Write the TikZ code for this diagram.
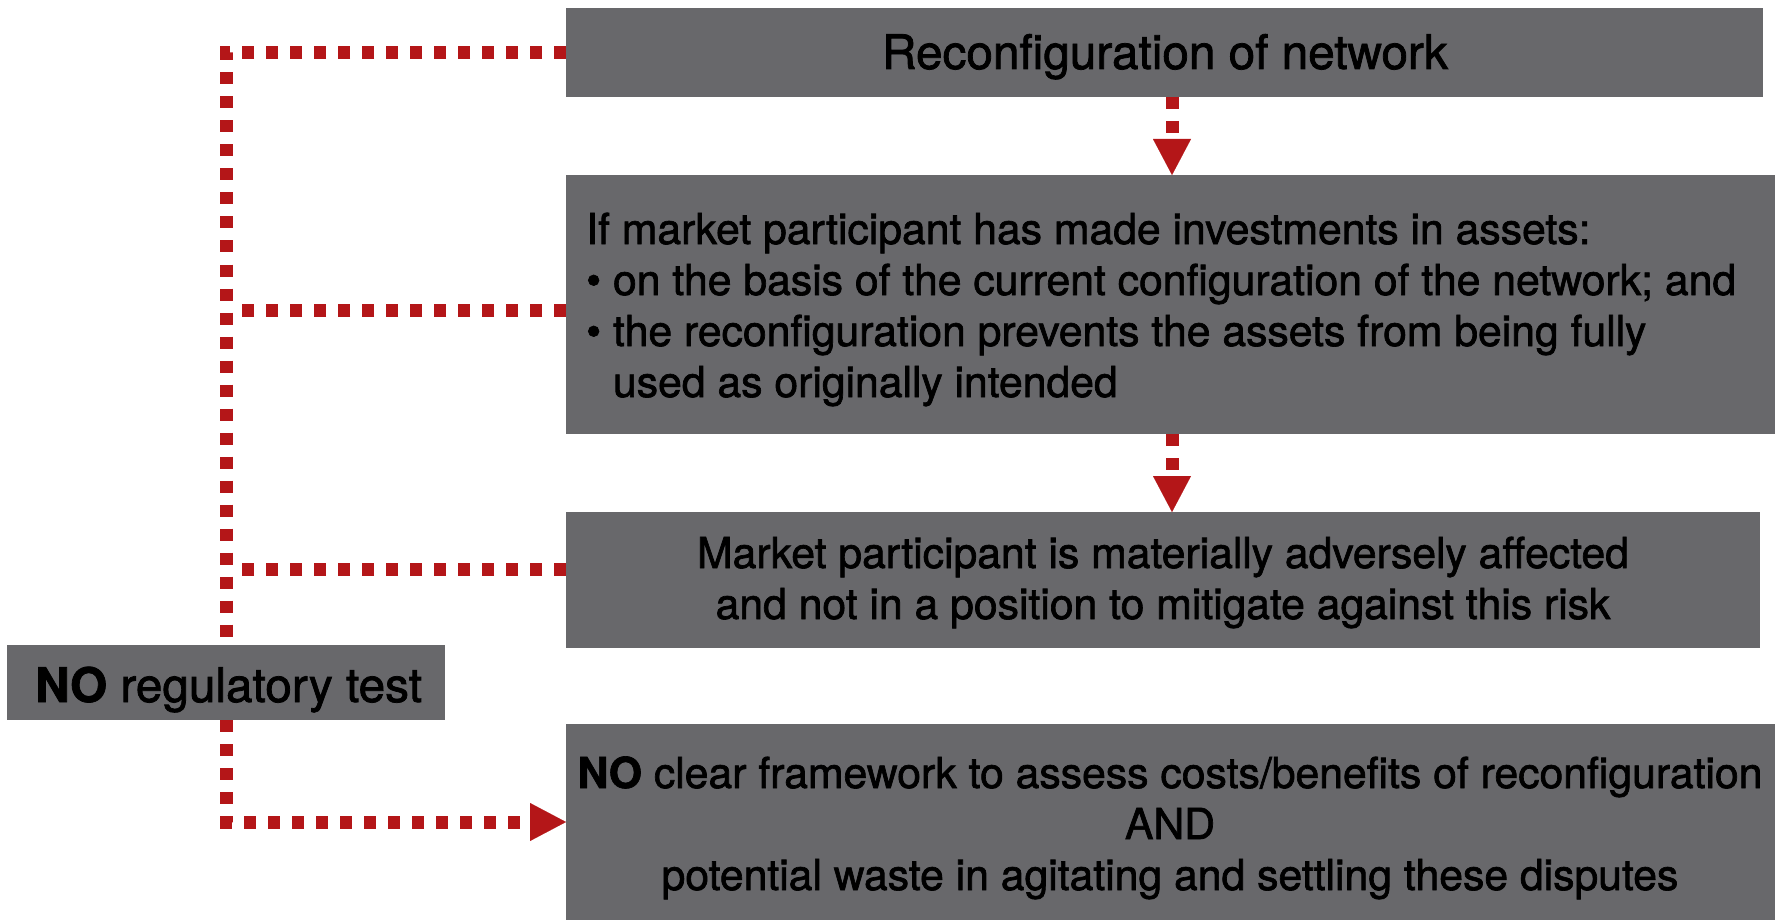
\documentclass[tikz,border=0pt]{standalone}
\usepackage{fontspec}
\setmainfont{TeX Gyre Heros}[FakeBold=1.6]
\usetikzlibrary{arrows.meta}
\definecolor{boxgray}{RGB}{104,104,107}
\definecolor{linered}{RGB}{180,22,24}
\begin{document}
\begin{tikzpicture}[x=1pt,y=-1pt,
  box/.style={fill=boxgray, draw=none, inner sep=0pt, outer sep=0pt},
  conn/.style={draw=linered, line width=13pt, dash pattern=on 12pt off 12pt},
  tip/.style={-{Triangle[width=38pt,length=36pt,line width=0.1pt]}},
  body/.style={font=\fontsize{42.7}{51}\selectfont, inner sep=0pt, text=black},
  big/.style={font=\fontsize{47.7}{51}\selectfont, inner sep=0pt, text=black}]
\useasboundingbox (0,0) rectangle (1775,920);
\fill[white] (0,0) rectangle (1775,920);

% boxes
\node[box, minimum width=1197pt, minimum height=89pt]  (b1) at (1164.5,52.5) {};
\node[box, minimum width=1209pt, minimum height=259pt] (b2) at (1170.5,304.5) {};
\node[box, minimum width=1194pt, minimum height=136pt] (b3) at (1163,580) {};
\node[box, minimum width=1209pt, minimum height=196pt] (b4) at (1170.5,822) {};

% texts (base anchor = baseline of the last line)
\node[big, anchor=base] (t1) at (1165,69) {Reconfiguration of network};
\node[body, anchor=base west, align=left] (t2) at (586,397)
  {If market participant has made investments in assets:\\
   \textbullet\ on the basis of the current configuration of the network; and\\
   \textbullet\ the reconfiguration prevents the assets from being fully\\
   \phantom{\textbullet\ }used as originally intended};
\node[body, anchor=base, align=center] (t3) at (1163,619)
  {Market participant is materially adversely affected\\
   and not in a position to mitigate against this risk};
\node[body, anchor=base, align=center] (t4) at (1170,890)
  {\textbf{NO} clear framework to assess costs/benefits of reconfiguration\\
   AND\\
   potential waste in agitating and settling these disputes};

% connectors
\coordinate (ax) at (1172,0);
\draw[conn, tip] (ax |- b1.south) -- (ax |- b2.north);
\draw[conn, tip] (ax |- b2.south) -- (ax |- b3.north);

\node[box, minimum width=438pt, minimum height=75pt] (no) at (226,682.5) {};
\draw[conn] (b1.west) -- (b1.west -| no.north) -- (no.north);
\draw[conn] ([yshift=-5.5pt]b2.west) -- ([yshift=-5.5pt,xshift=8pt]b2.west -| no.north);
\draw[conn] ([yshift=11pt]b3.west) -- ([yshift=11pt,xshift=8pt]b3.west -| no.north);
\draw[conn, tip] (no.south) -- (no.south |- b4.west) -- (b4.west);
\node[big, anchor=base west] (tno) at (35,702) {\textbf{NO} regulatory test};
\end{tikzpicture}
\end{document}
